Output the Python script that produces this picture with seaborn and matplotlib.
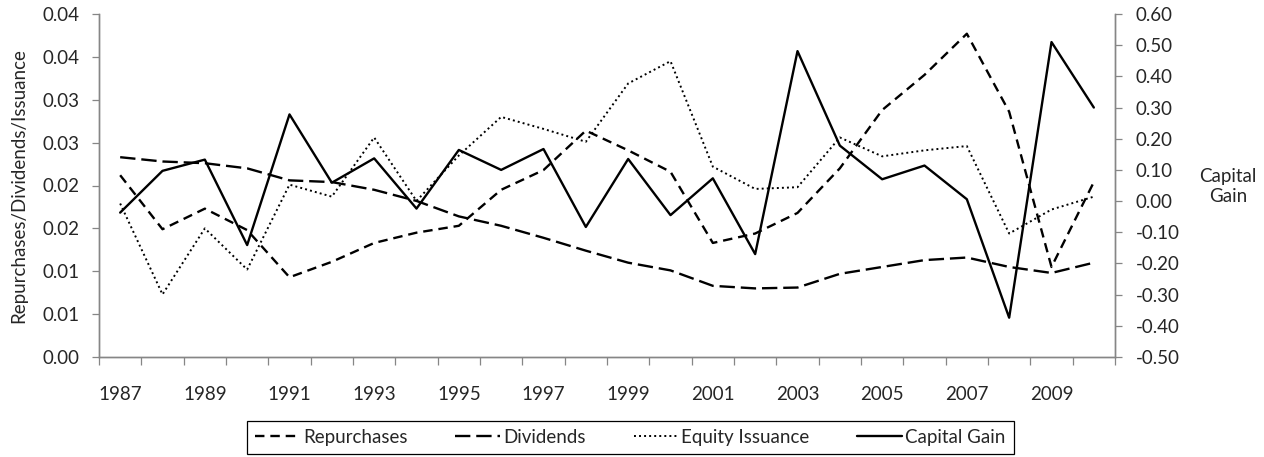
import numpy as np
import matplotlib.pyplot as plt
import seaborn as sns

years = np.arange(1987, 2011)
repurchases = [0.0212, 0.0149, 0.0173, 0.0148, 0.0093, 0.0111, 0.0133, 0.0145,
               0.0153, 0.0195, 0.0218, 0.0264, 0.0241, 0.0216, 0.0133, 0.0144,
               0.0168, 0.0220, 0.0288, 0.0329, 0.0377, 0.0286, 0.0105, 0.0204]
dividends = [0.0233, 0.0228, 0.0226, 0.0220, 0.0206, 0.0204, 0.0195, 0.0182,
             0.0164, 0.0153, 0.0139, 0.0124, 0.0110, 0.0101, 0.0083, 0.0080,
             0.0081, 0.0097, 0.0105, 0.0113, 0.0116, 0.0105, 0.0098, 0.0110]
equity_issuance = [0.0179, 0.0073, 0.0150, 0.0102, 0.0201, 0.0187, 0.0256, 0.0182,
                   0.0235, 0.0280, 0.0266, 0.0251, 0.0319, 0.0345, 0.0222, 0.0196,
                   0.0198, 0.0256, 0.0234, 0.0241, 0.0246, 0.0144, 0.0172, 0.0187]
capital_gain = [-0.037, 0.097, 0.133, -0.141, 0.278, 0.059, 0.137, -0.024,
                0.164, 0.100, 0.167, -0.083, 0.135, -0.045, 0.073, -0.170,
                0.481, 0.178, 0.070, 0.114, 0.006, -0.374, 0.510, 0.300]

left_ticks = [0.0, 0.005, 0.01, 0.015, 0.02, 0.025, 0.03, 0.035, 0.04]
left_ticklabels = ["0.00", "0.01", "0.01", "0.02", "0.02", "0.03", "0.03", "0.04", "0.04"]
right_ticks = [-0.5, -0.4, -0.3, -0.2, -0.1, 0.0, 0.1, 0.2, 0.3, 0.4, 0.5, 0.6]
year_labels = years[::2]

sns.set_style("white")
plt.rcParams['font.family'] = ['Lato', 'DejaVu Sans']
fs = 13.5
grey = "#868686"

fig = plt.figure(figsize=(12.64, 4.57), dpi=100)
ax = fig.add_axes([99 / 1264, 1 - 357 / 457, 1016 / 1264, 343 / 457])
ax2 = ax.twinx()

sns.lineplot(x=years, y=repurchases, ax=ax, color="black", lw=1.7,
             linestyle=(0, (4, 2.5)), label="Repurchases")
sns.lineplot(x=years, y=dividends, ax=ax, color="black", lw=1.7,
             linestyle=(0, (6.5, 2.5)), label="Dividends")
sns.lineplot(x=years, y=equity_issuance, ax=ax, color="black", lw=1.4,
             linestyle=(0, (1, 1.6)), label="Equity Issuance")
sns.lineplot(x=years, y=capital_gain, ax=ax2, color="black", lw=1.7,
             label="Capital Gain")

ax.set_xlim(years[0] - 0.5, years[-1] + 0.5)
ax.set_ylim(0, 0.04)
ax2.set_ylim(-0.5, 0.6)

# category boundaries get tick marks, every second year gets a label
ax.set_xticks(np.append(years - 0.5, years[-1] + 0.5))
ax.set_xticklabels([])
ax.set_xticks(year_labels, minor=True)
ax.set_xticklabels([str(y) for y in year_labels], minor=True, fontsize=fs)
ax.tick_params(axis="x", which="major", length=6, width=0.9, color=grey, direction="out", bottom=True)
ax.tick_params(axis="x", which="minor", length=0, pad=21)

ax.set_yticks(left_ticks)
ax.set_yticklabels(left_ticklabels, fontsize=fs)
ax.tick_params(axis="y", length=5, width=0.9, color=grey, direction="out", left=True, pad=9)

ax2.set_yticks(right_ticks)
ax2.set_yticklabels([f"{v:.2f}" for v in right_ticks], fontsize=fs)
ax2.tick_params(axis="y", length=5, width=0.9, color=grey, direction="out", right=True, pad=10)

ax.set_xlabel("")
ax.set_ylabel("Repurchases/Dividends/Issuance", fontsize=fs)
ax.yaxis.set_label_coords(-0.071, 0.5)
ax2.set_ylabel("Capital\nGain", fontsize=fs, rotation=0, ha="center", va="center")
ax2.yaxis.set_label_coords(1.111, 0.496)

for a in (ax, ax2):
    a.spines["top"].set_visible(False)
    for s in ("left", "right", "bottom"):
        a.spines[s].set_color(grey)
        a.spines[s].set_linewidth(1.0)
    a.grid(False)

h1, l1 = ax.get_legend_handles_labels()
h2, l2 = ax2.get_legend_handles_labels()
ax.get_legend().remove()
ax2.get_legend().remove()
leg = fig.legend(h1 + h2, l1 + l2, loc="center", bbox_to_anchor=(630.5 / 1264, 1 - 437.5 / 457),
                 ncol=4, frameon=True, fancybox=False, edgecolor="black", framealpha=1,
                 fontsize=fs, handlelength=2.4, handletextpad=0.15, columnspacing=2.55,
                 borderpad=0.45, borderaxespad=0)
leg.get_frame().set_linewidth(0.9)

fig.savefig("out.png", dpi=100)
